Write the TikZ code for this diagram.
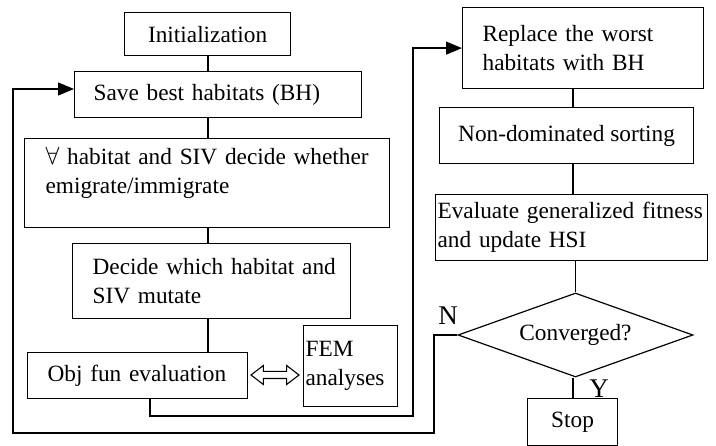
\documentclass[tikz,border=0pt]{standalone}
\usepackage{fontspec}
\setmainfont{Liberation Serif}
\usetikzlibrary{shapes.geometric,shapes.arrows,arrows.meta}
\begin{document}
\begin{tikzpicture}[x=1pt,y=-1pt,
  every node/.style={font=\fontsize{23.3}{29}\selectfont},
  box/.style={draw,line width=1.2pt,rectangle,inner ysep=0pt,anchor=north west},
  lbox/.style={box,align=left},
  cbox/.style={box,align=center},
  lnk/.style={line width=1.2pt},
  arr/.style={line width=1.2pt,-{Triangle[length=16pt,width=13pt]}},
  yn/.style={font=\fontsize{27}{30}\selectfont,inner sep=0pt}]
\useasboundingbox (0,0) rectangle (716,446);

\node[cbox,minimum width=166pt,minimum height=43pt] (init) at (124,12) {Initialization};
\node[lbox,minimum width=287pt,minimum height=46pt,inner xsep=19pt,text width=249pt] (save) at (74,71) {\mbox{Save best habitats (BH)}};
\node[lbox,minimum width=365pt,minimum height=89pt,inner xsep=21pt,text width=323pt] (forall) at (24,138) {\mbox{$\forall$ habitat and SIV decide whether}\\\mbox{emigrate/immigrate}\\[-4pt]\mbox{}};
\node[lbox,minimum width=278pt,minimum height=75pt,inner xsep=20pt,text width=238pt] (decide) at (72,243) {\mbox{Decide which habitat and}\\\mbox{SIV mutate}};
\node[lbox,minimum width=220pt,minimum height=46pt,inner xsep=20pt,text width=180pt] (obj) at (27,352) {\mbox{Obj fun evaluation}};
\node[lbox,minimum width=94pt,minimum height=81pt,inner xsep=2pt,text width=90pt] (fem) at (303,325) {\mbox{FEM}\\\mbox{analyses}};
\node[draw,line width=1.1pt,shape=double arrow,inner xsep=0pt,inner ysep=3pt,minimum height=48pt,double arrow head extend=6pt,double arrow head indent=0pt,double arrow tip angle=75] (dbl) at (275,375) {};

\node[lbox,minimum width=241pt,minimum height=81pt,inner xsep=20pt,text width=201pt] (replace) at (462,7) {\mbox{Replace the worst}\\\mbox{habitats with BH}};
\node[cbox,minimum width=254pt,minimum height=56pt] (nondom) at (439,107) {Non-dominated sorting};
\node[lbox,minimum width=272pt,minimum height=66pt,inner xsep=2pt,text width=268pt] (eval) at (435,194) {\mbox{Evaluate generalized fitness}\\\mbox{and update HSI}};
\node[draw,line width=1.2pt,shape=diamond,aspect=2.8,minimum width=235pt,minimum height=84pt,inner sep=0pt] (conv) at (575.5,335) {Converged?};
\node[cbox,minimum width=90pt,minimum height=47pt] (stop) at (527,398) {Stop};

\node[yn] (nlab) at (448,316) {N};
\node[yn] (ylab) at (599,389) {Y};

\coordinate (spine) at (208,0);
\coordinate (rspine) at (573,0);
\coordinate (fb1) at (150,416);
\coordinate (fb2) at (413,416);
\coordinate (n1) at (434,433);
\coordinate (n2) at (13,89);

\draw[lnk] (spine |- init.south) -- (spine |- save.north);
\draw[lnk] (spine |- save.south) -- (spine |- forall.north);
\draw[lnk] (spine |- forall.south) -- (spine |- decide.north);
\draw[lnk] (spine |- decide.south) -- (spine |- obj.north);

\draw[lnk] (rspine |- replace.south) -- (rspine |- nondom.north);
\draw[lnk] (rspine |- nondom.south) -- (rspine |- eval.north);
\draw[lnk] (eval.south -| conv.north) -- (conv.north);
\draw[lnk] (rspine |- conv.south) -- (rspine |- stop.north);

\draw[arr] (fb1 |- obj.south) -- (fb1) -- (fb2) -- (fb2 |- replace.west) -- (replace.west);
\draw[arr] (conv.west) -| (n1) -| (n2) -- (n2 -| save.west);
\end{tikzpicture}
\end{document}
